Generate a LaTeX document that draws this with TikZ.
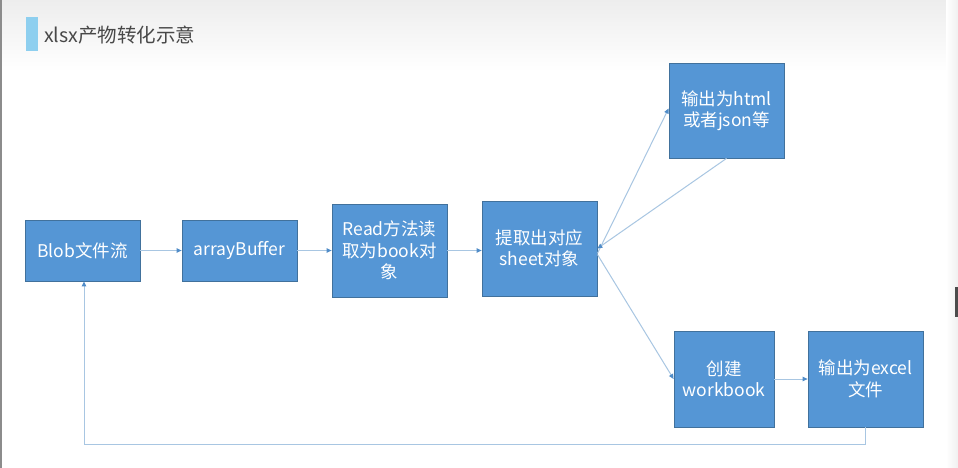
\documentclass[tikz,border=0pt]{standalone}
\usepackage{fontspec}
\setmainfont{Noto Sans CJK SC}
\usetikzlibrary{arrows.meta}
\definecolor{boxfill}{RGB}{85,150,213}
\definecolor{boxline}{RGB}{65,113,156}
\definecolor{linkc}{RGB}{168,198,226}
\definecolor{tipc}{RGB}{80,140,200}
\definecolor{barc}{RGB}{142,207,239}
\definecolor{titlec}{RGB}{72,72,72}
\tikzset{
  box/.style={draw=boxline, line width=0.8pt, fill=boxfill, text=white, align=center,
    font=\fontsize{17.5}{21.5}\selectfont, inner sep=2pt},
  link/.style={draw=linkc, line width=1pt, -{Triangle[length=5pt,width=4.5pt,color=tipc]}},
}
\begin{document}
\begin{tikzpicture}[x=1pt,y=-1pt]
\useasboundingbox (0,0) rectangle (958,468);
\fill[white] (0,0) rectangle (958,468);
\shade[top color=black!7, bottom color=white] (0,0) rectangle (958,72);
\shade[left color=white, right color=black!6] (946,0) rectangle (958,468);
\fill[black!45] (0,0) rectangle (2,468);
\fill[black!70] (955,287) rectangle (958,317);
% title
\fill[barc] (26,17) rectangle (38,51);
\node[anchor=west, text=titlec, font=\fontsize{19.5}{22}\selectfont, inner sep=0pt] (title) at (44,35) {xlsx产物转化示意};
% boxes
\node[box, minimum width=115pt, minimum height=61pt] (blob) at (82.5,250.5) {Blob文件流};
\node[box, minimum width=115pt, minimum height=61pt] (array) at (239.5,250.5) {arrayBuffer};
\node[box, minimum width=115pt, minimum height=93pt] (read) at (389.5,250.5) {Read方法读\\取为book对\\象};
\node[box, minimum width=115pt, minimum height=95pt] (sheet) at (539.5,248.5) {提取出对应\\sheet对象};
\node[box, minimum width=115pt, minimum height=95pt] (html) at (726.5,110.5) {输出为html\\或者json等};
\node[box, minimum width=100pt, minimum height=96pt] (wb) at (724,379) {创建\\workbook};
\node[box, minimum width=115pt, minimum height=96pt] (excel) at (865.5,379) {输出为excel\\文件};
% connectors
\draw[link] (blob.east) -- (array.west);
\draw[link] (array.east) -- (read.west);
\draw[link] (read.east) -- (read.east -| sheet.west);
\draw[link] ([yshift=-5pt]sheet.east) -- ([yshift=2pt]html.west);
\draw[link] (html.south) -- (sheet.east);
\draw[link] ([yshift=-6pt]sheet.east) -- (wb.west);
\draw[link] (wb.east) -- (excel.west);
\coordinate (corner) at (865.5,444);
\draw[link] (excel.south) -- (corner) -| ([xshift=1.5pt]blob.south);
\end{tikzpicture}
\end{document}
